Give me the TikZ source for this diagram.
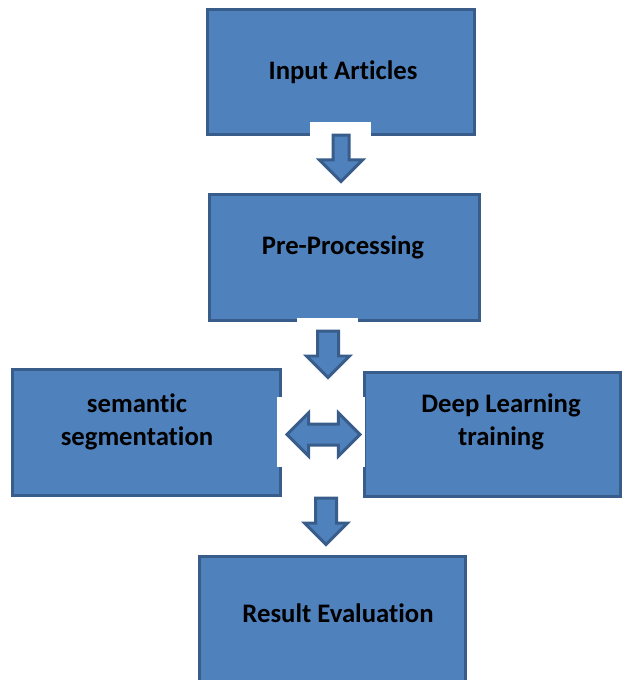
\documentclass[tikz,border=0pt]{standalone}
\usepackage{fontspec}
\setmainfont{Carlito}[Ligatures=NoCommon]
\usetikzlibrary{shapes.arrows}
\definecolor{boxfill}{HTML}{4F81BD}
\definecolor{boxline}{HTML}{385D8A}
\tikzset{
box node/.style={rectangle,draw=boxline,fill=boxfill,line width=0.06cm,inner sep=0pt},
box text/.style={font=\fontsize{15.2}{18.8}\selectfont\bfseries,align=center,text=black},
down arrow/.style={single arrow,draw=boxline,fill=boxfill,line width=0.06cm,rotate=-90,anchor=tail,
  inner xsep=0pt,inner ysep=0.18cm,minimum height=0.93cm,single arrow head extend=0.22cm},
both arrow/.style={double arrow,draw=boxline,fill=boxfill,line width=0.06cm,
  inner xsep=0pt,inner ysep=0.18cm,minimum height=1.46cm,double arrow head extend=0.22cm},
notch/.style={fill=white}}

\begin{document}
\begin{tikzpicture}[x=0.02cm,y=-0.02cm]
\useasboundingbox (0,0) rectangle (624,680);
\clip (0,0) rectangle (624,680);

% boxes
\node[box node,minimum width=5.34cm,minimum height=2.5cm] (inp) at (341,72) {};
\node[box node,minimum width=5.40cm,minimum height=2.52cm] (pre) at (344.5,257.5) {};
\node[box node,minimum width=5.36cm,minimum height=2.52cm] (sem) at (146.5,432.5) {};
\node[box node,minimum width=5.12cm,minimum height=2.48cm] (deep) at (492.5,434.5) {};
\node[box node,minimum width=5.32cm,minimum height=2.50cm] (res) at (332.5,619) {};

% white gaps round the arrows
\fill[notch] (310,122) rectangle (371,186);
\fill[notch] (297,318) rectangle (358,380);
\fill[notch] (277,397) rectangle (365,467);

% arrows
\node[down arrow,inner ysep=0.13cm,single arrow head extend=0.27cm] (a1) at (341,133.5) {};
\node[down arrow] (a2) at (328,329.5) {};
\node[both arrow] (a3) at (323.5,434.5) {};
\node[down arrow] (a4) at (326,496.5) {};

% texts
\node[box text] (inpT) at (343,72) {Input Articles};
\node[box text] (preT) at (343,247) {Pre-Processing};
\node[box text] (semT) at (137,421.5) {semantic\\segmentation};
\node[box text] (deepT) at (501,422) {Deep Learning\\training};
\node[box text] (resT) at (338,613) {Result Evaluation};

\end{tikzpicture}
\end{document}
